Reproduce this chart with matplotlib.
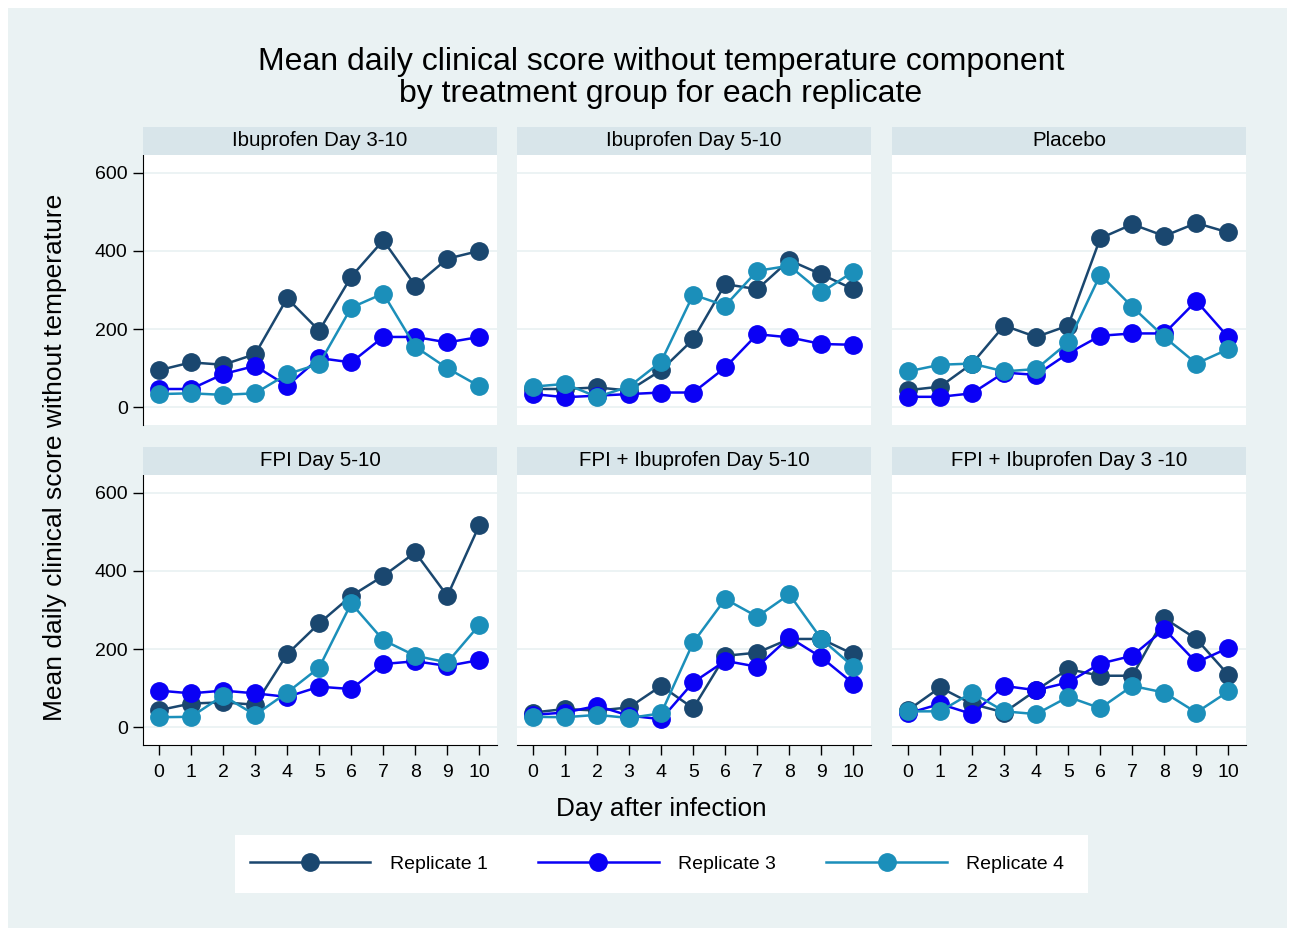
import matplotlib
matplotlib.use("Agg")
import matplotlib.pyplot as plt
from matplotlib.lines import Line2D
from matplotlib.patches import Rectangle

plt.rcParams['font.family'] = ['Liberation Sans', 'DejaVu Sans']

days = list(range(11))
panels = ["Ibuprofen Day 3-10", "Ibuprofen Day 5-10", "Placebo",
          "FPI Day 5-10", "FPI + Ibuprofen Day 5-10", "FPI + Ibuprofen Day 3 -10"]
series_names = ["Replicate 1", "Replicate 3", "Replicate 4"]

ibu310_rep1 = [95, 115, 109, 136, 279, 196, 334, 427, 311, 380, 400]
ibu310_rep3 = [47, 47, 85, 106, 55, 126, 115, 180, 180, 166, 180]
ibu310_rep4 = [34, 36, 32, 36, 85, 111, 255, 291, 155, 100, 54]

ibu510_rep1 = [47, 47, 51, 43, 95, 174, 315, 302, 376, 340, 302]
ibu510_rep3 = [34, 26, 30, 34, 38, 38, 102, 187, 179, 162, 160]
ibu510_rep4 = [53, 60, 27, 53, 117, 288, 260, 349, 362, 294, 347]

placebo_rep1 = [44, 53, 112, 209, 180, 209, 432, 468, 438, 471, 447]
placebo_rep3 = [27, 27, 36, 89, 83, 138, 183, 189, 189, 272, 179]
placebo_rep4 = [92, 109, 112, 92, 98, 166, 339, 257, 180, 112, 149]

fpi510_rep1 = [44, 61, 64, 58, 187, 266, 336, 387, 447, 336, 517]
fpi510_rep3 = [94, 87, 94, 87, 78, 104, 98, 162, 169, 157, 172]
fpi510_rep4 = [26, 27, 81, 32, 89, 153, 317, 223, 183, 166, 262]

fpiibu510_rep1 = [38, 47, 43, 51, 106, 49, 183, 191, 226, 226, 187]
fpiibu510_rep3 = [32, 38, 55, 30, 21, 115, 170, 155, 230, 179, 112]
fpiibu510_rep4 = [27, 26, 32, 24, 36, 217, 328, 283, 340, 226, 155]

fpiibu310_rep1 = [44, 102, 60, 38, 95, 149, 132, 132, 279, 226, 134]
fpiibu310_rep3 = [36, 60, 34, 106, 95, 115, 163, 183, 251, 166, 203]
fpiibu310_rep4 = [41, 41, 89, 41, 34, 78, 49, 106, 89, 38, 92]

data = [
    [ibu310_rep1, ibu310_rep3, ibu310_rep4],
    [ibu510_rep1, ibu510_rep3, ibu510_rep4],
    [placebo_rep1, placebo_rep3, placebo_rep4],
    [fpi510_rep1, fpi510_rep3, fpi510_rep4],
    [fpiibu510_rep1, fpiibu510_rep3, fpiibu510_rep4],
    [fpiibu310_rep1, fpiibu310_rep3, fpiibu310_rep4],
]

yticks = [0, 200, 400, 600]
colors = ["#1a476f", "#0a00f5", "#1b8fba"]
bg = "#eaf2f3"
strip_col = "#d8e5ea"

W, H = 1293, 934
fig = plt.figure(figsize=(W / 100, H / 100), dpi=100)
fig.patch.set_facecolor("white")
fig.add_artist(Rectangle((8 / W, 1 - 928 / H), (1287 - 8) / W, (928 - 8) / H,
                         transform=fig.transFigure, facecolor=bg, edgecolor="none", zorder=-10))

xs = [143, 517, 892]
pw = 354
rows = [(155, 425, 127), (475, 745, 447)]

def fx(x):
    return x / W

def fy(y):
    return 1 - y / H

for i, name in enumerate(panels):
    r, c = divmod(i, 3)
    top, bot, stop = rows[r]
    x0 = xs[c]
    ax = fig.add_axes([fx(x0), fy(bot), pw / W, (bot - top) / H])
    ax.set_facecolor("white")
    # strip
    sax = fig.add_axes([fx(x0), fy(top), pw / W, (top - stop) / H])
    sax.set_facecolor(strip_col)
    sax.set_xticks([]); sax.set_yticks([])
    for s in sax.spines.values():
        s.set_visible(False)
    sax.text(0.5, 0.5, name, ha="center", va="center", fontsize=14.8, color="black",
             transform=sax.transAxes)

    for k in range(3):
        ax.plot(days, data[i][k], color=colors[k], lw=1.8, marker="o", markersize=12.5,
                markeredgecolor=colors[k], zorder=3 + k)
    ax.set_xlim(-0.5, 10.55)
    ax.set_ylim(-45, 645)
    ax.set_yticks(yticks)
    ax.grid(axis="y", color=bg, lw=1.3)
    ax.set_axisbelow(True)
    for s in ["top", "right"]:
        ax.spines[s].set_visible(False)
    ax.spines["left"].set_visible(c == 0)
    ax.spines["bottom"].set_visible(r == 1)
    ax.spines["left"].set_color("black")
    ax.spines["bottom"].set_color("black")
    ax.set_xticks(days)
    if c == 0:
        ax.tick_params(axis="y", length=7, width=1, labelsize=14, pad=4)
    else:
        ax.tick_params(axis="y", left=False, labelleft=False)
    if r == 1:
        ax.tick_params(axis="x", length=7, width=1, labelsize=14, pad=7)
    else:
        ax.tick_params(axis="x", bottom=False, labelbottom=False)

fig.text(fx(661), fy(78), "Mean daily clinical score without temperature component\nby treatment group for each replicate",
         ha="center", va="center", fontsize=23, linespacing=1.1)
fig.text(fx(55), fy(457), "Mean daily clinical score without temperature", rotation=90,
         ha="center", va="center", fontsize=19)
fig.text(fx(661), fy(809), "Day after infection", ha="center", va="center", fontsize=18.8)

handles = [Line2D([0], [0], color=colors[k], lw=1.8, marker="o", markersize=12.5)
           for k in range(3)]
fig.add_artist(Rectangle((fx(235), fy(893)), (1088 - 235) / W, (893 - 835) / H,
                         transform=fig.transFigure, facecolor="white", edgecolor="none", zorder=1))
leg = fig.legend(handles, series_names, loc="center", bbox_to_anchor=(fx(657), fy(864)),
                 ncol=3, frameon=False, fontsize=14, handlelength=6.2, handletextpad=1.0,
                 columnspacing=2.6)

fig.savefig("out.png", dpi=100, facecolor="white")
